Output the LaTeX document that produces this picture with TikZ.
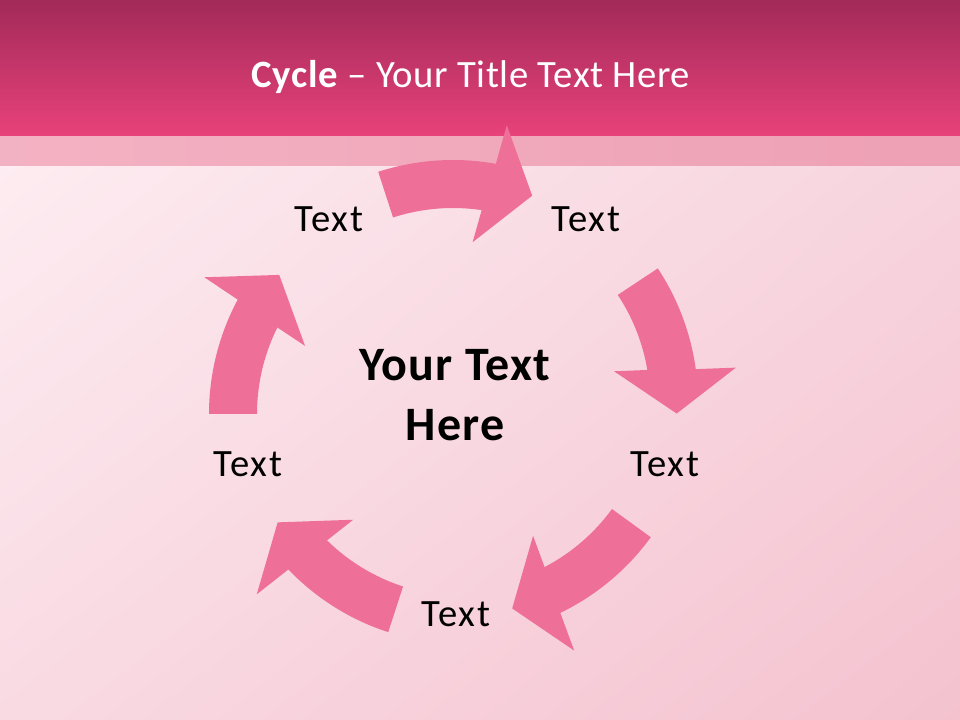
\documentclass[tikz,border=0pt]{standalone}
\usepackage{fontspec}
\setmainfont{Carlito}
\usetikzlibrary{shadings}
\definecolor{barTop}{RGB}{162,42,88}
\definecolor{barBot}{RGB}{232,66,122}
\definecolor{bandL}{RGB}{243,178,195}
\definecolor{bandR}{RGB}{238,160,180}
\definecolor{bgUL}{RGB}{253,236,241}
\definecolor{bgUR}{RGB}{247,212,222}
\definecolor{bgLL}{RGB}{249,218,227}
\definecolor{bgLR}{RGB}{244,194,207}
\definecolor{arrowPink}{RGB}{238,112,153}
\newcommand\cycarrow[5]{%
  \begin{scope}[shift={(#2,#3)}, rotate=#1]
    \fill[arrowPink] (#4:#5) arc[start angle=#4, end angle=79.8, radius=#5]
      -- (79:282) -- (69:221) -- (83:161) -- (81.5:194)
      arc[start angle=81.5, end angle=#4, radius=194] -- cycle;
  \end{scope}}
\begin{document}
\begin{tikzpicture}[x=0.75pt,y=0.75pt,
  lbl/.style={font=\fontsize{29}{35}\selectfont\addfontfeatures{LetterSpace=4.5}, text=black, inner sep=0pt, anchor=base},
  centre/.style={font=\fontsize{36}{45}\selectfont\bfseries\addfontfeatures{LetterSpace=2.5}, text=black, inner sep=0pt, align=center},
  ttl/.style={font=\fontsize{29}{35}\selectfont\addfontfeatures{LetterSpace=1.5}, text=white, inner sep=0pt, anchor=base}]
\useasboundingbox (0,0) rectangle (960,720);
\shade[upper left=bgUL, upper right=bgUR, lower left=bgLL, lower right=bgLR] (0,0) rectangle (960,554);
\shade[left color=bandL, right color=bandR] (0,554) rectangle (960,584);
\shade[top color=barTop, bottom color=barBot] (0,584) rectangle (960,720);
\node[ttl] (title) at (471,632) {\textbf{Cycle} – Your Title Text Here};
\cycarrow{0}{453}{318}{108}{242}
\cycarrow{-72}{456}{318}{105.5}{242}
\cycarrow{-144}{455}{325}{108}{242}
\cycarrow{144}{463}{318}{108}{242}
\cycarrow{72}{451}{306}{108}{242}
\node[lbl] (t1) at (329,488) {Text};
\node[lbl] (t2) at (586,488) {Text};
\node[lbl] (t3) at (665,243) {Text};
\node[lbl] (t4) at (456,93) {Text};
\node[lbl] (t5) at (248,243) {Text};
\node[centre] (c) at (455,325) {Your Text\\Here};
\end{tikzpicture}
\end{document}
